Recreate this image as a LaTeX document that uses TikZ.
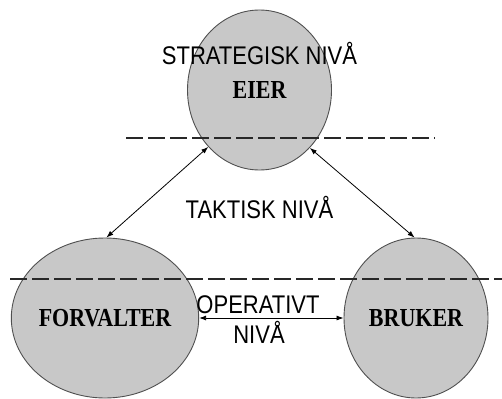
\documentclass[tikz,border=0pt]{standalone}
\usepackage{fontspec}
\setmainfont{Liberation Serif}
\setsansfont{Liberation Sans}
\usepackage{graphicx}
\usetikzlibrary{arrows.meta,shapes.geometric}
\definecolor{circgray}{RGB}{200,200,200}
\definecolor{circline}{RGB}{80,80,80}
\definecolor{dashgray}{RGB}{40,40,40}
\newcommand{\levtext}[1]{\scalebox{1}[1.16]{\sffamily\fontsize{22}{24}\selectfont #1}}
\newcommand{\roletext}[1]{\raisebox{-2.5pt}{\scalebox{1}[1.18]{\bfseries\fontsize{22}{24}\selectfont #1}}}

\begin{document}
\begin{tikzpicture}[x=1pt,y=-1pt,<->,>={Latex[length=7pt,width=5pt]},line width=0.8pt,node distance=311pt]
  \tikzstyle{role}=[ellipse,draw=circline,line width=0.9pt,fill=circgray,minimum width=144pt,minimum height=160pt,inner sep=0pt]
  \tikzstyle{level}=[draw=dashgray,line width=2.9pt,dash pattern=on 16.5pt off 5.5pt,-]
  \useasboundingbox (0,0) rectangle (502,398);

  \node[role]         (eier) at (259.5,90) {\roletext{EIER}};
  \node[role]         (forv) at (105,318)  {\roletext{FORVALTER}};
  \node[role]         (bruk) [right of=forv] {\roletext{BRUKER}};

  % nivaa-skiller
  \draw[level] (126,138) -- (435,138);
  \draw[level] (10,279) -- (502,279);

  \node[anchor=base] (strat)  at (259.5,65)  {\levtext{STRATEGISK NIVÅ}};
  \node[anchor=base] (takt)   at (259.5,218) {\levtext{TAKTISK NIVÅ}};
  \node[anchor=base] (oper)   at (258,313)   {\levtext{OPERATIVT}};
  \node[anchor=base] (opniva) at (259,343)   {\levtext{NIVÅ}};

  \path (eier.228) edge (forv.89)
        (eier.311) edge (bruk.91)
        (forv.east) edge (bruk.west);
\end{tikzpicture}
\end{document}
